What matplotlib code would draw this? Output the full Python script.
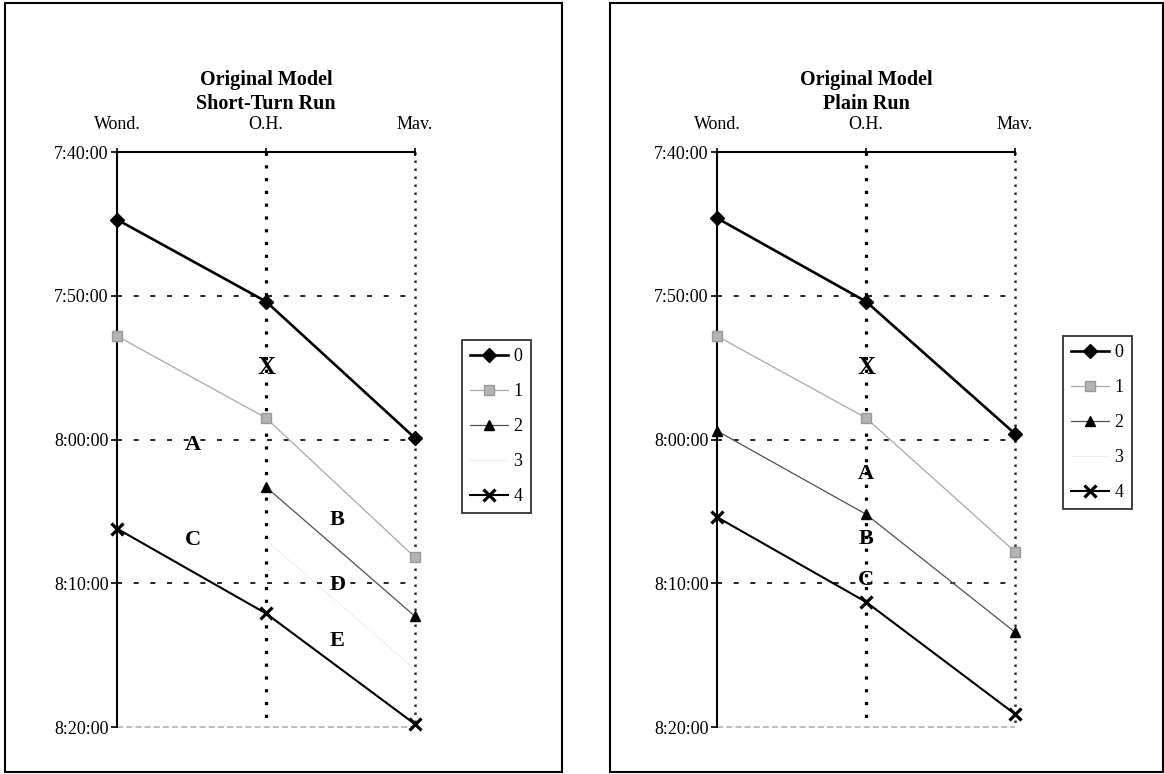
import matplotlib
matplotlib.use('Agg')
import matplotlib.pyplot as plt
import numpy as np
from matplotlib.patches import Rectangle

nan = np.nan

# ---------------- data ----------------
stations = ['Wond.', 'O.H.', 'Mav.']
time_ticks = ['7:40:00', '7:50:00', '8:00:00', '8:10:00', '8:20:00']
tick_minutes = [0, 10, 20, 30, 40]          # minutes after 7:40:00
series_names = ['0', '1', '2', '3', '4']

# Short-Turn Run (minutes after 7:40:00)
short_s0 = [4.7, 10.4, 19.9]
short_s1 = [12.8, 18.5, 28.2]
short_s2 = [nan, 23.3, 32.3]
short_s3 = [nan, 27.0, 36.0]
short_s4 = [26.2, 32.1, 39.8]

# Plain Run (minutes after 7:40:00)
plain_s0 = [4.6, 10.4, 19.6]
plain_s1 = [12.8, 18.5, 27.8]
plain_s2 = [19.4, 25.2, 33.4]
plain_s3 = [nan, nan, nan]
plain_s4 = [25.4, 31.3, 39.1]

# letter annotations (station index, minutes after 7:40)
short_labels = ['X', 'A', 'B', 'C', 'D', 'E']
short_lab_x = [1.0, 0.51, 1.48, 0.51, 1.48, 1.48]
short_lab_y = [15.0, 20.4, 25.6, 27.0, 30.1, 34.0]

plain_labels = ['X', 'A', 'B', 'C']
plain_lab_x = [1.0, 1.0, 1.0, 1.0]
plain_lab_y = [15.0, 22.4, 26.9, 29.8]

# ---------------- style ----------------
plt.rcParams['font.family'] = ['Liberation Serif', 'DejaVu Serif']
W, H = 1164, 774
fig = plt.figure(figsize=(W / 100, H / 100), dpi=100)

styles = [
    dict(color='black', lw=1.9, marker='D', ms=7.5, mfc='black', mec='black'),
    dict(color='#a8a8a8', lw=0.9, marker='s', ms=7.5, mfc='#b4b4b4', mec='#999999'),
    dict(color='#505050', lw=0.9, marker='^', ms=7.5, mfc='black', mec='black'),
    dict(color='#eeeeee', lw=0.8, marker=None),
    dict(color='black', lw=1.5, marker='x', ms=9, mew=2.3, mec='black'),
]


def panel(ax_px, frame_px, title2, series, labs, lab_x, lab_y, legend_px):
    x0, x1, ytop, ybot = ax_px
    ax = fig.add_axes([x0 / W, 1 - ybot / H, (x1 - x0) / W, (ybot - ytop) / H])
    ax.set_xlim(0, 2)
    ax.set_ylim(40, 0)
    # gridlines
    for m in tick_minutes[1:-1]:
        ax.plot([0, 2], [m, m], color='black', lw=1.2, ls=(0, (3, 7)), zorder=1)
    ax.plot([0, 2], [40, 40], color='#aaaaaa', lw=1.1, ls=(0, (4, 2)), zorder=1,
            clip_on=False)
    ax.plot([1, 1], [0, 40], color='black', lw=2.3, ls=(0, (1, 3)), zorder=1)
    ax.plot([2, 2], [0, 40], color='#333333', lw=1.8, ls=(0, (1, 2.2)), zorder=1,
            clip_on=False)

    xs = np.arange(len(stations))
    handles = []
    for name, vals, st in zip(series_names, series, styles):
        h, = ax.plot(xs, vals, label=name, clip_on=False, zorder=3, **st)
        handles.append(h)

    for t, lx, ly in zip(labs, lab_x, lab_y):
        ax.text(lx, ly, t, ha='center', va='center', fontsize=18 if t == 'X' else 16,
                fontweight='bold', zorder=4)

    for s in ['right', 'bottom']:
        ax.spines[s].set_visible(False)
    for s in ['left', 'top']:
        ax.spines[s].set_linewidth(1.5)
        ax.spines[s].set_color('black')

    ax.xaxis.tick_top()
    ax.set_xticks(xs)
    ax.set_xticklabels(stations, fontsize=13)
    ax.tick_params(axis='x', direction='inout', length=6, width=1.2, pad=11)
    ax.set_yticks(tick_minutes)
    ax.set_yticklabels(time_ticks, fontsize=13)
    ax.tick_params(axis='y', direction='out', length=4, width=1.2, pad=2)

    cx = (x0 + x1) / 2
    fig.text(cx / W, 1 - 80 / H, 'Original Model', ha='center', va='center',
             fontsize=14.5, fontweight='bold')
    fig.text(cx / W, 1 - 104 / H, title2, ha='center', va='center',
             fontsize=14.5, fontweight='bold')

    fx0, fy0, fx1, fy1 = frame_px
    fig.add_artist(Rectangle((fx0 / W, 1 - fy1 / H), (fx1 - fx0) / W, (fy1 - fy0) / H,
                             transform=fig.transFigure, fill=False, lw=1.5,
                             edgecolor='black'))

    lx, ly = legend_px
    leg = fig.legend(handles=handles, loc='upper left',
                     bbox_to_anchor=(lx / W, 1 - ly / H), bbox_transform=fig.transFigure,
                     borderaxespad=0, frameon=True, fancybox=False, fontsize=13,
                     handlelength=2.1, handletextpad=0.3, labelspacing=1.0,
                     borderpad=0.45, markerscale=1.0)
    leg.get_frame().set_edgecolor('black')
    leg.get_frame().set_linewidth(1.3)
    return ax


panel((117, 415, 152, 727), (5, 3, 562, 772), 'Short-Turn Run',
      [short_s0, short_s1, short_s2, short_s3, short_s4],
      short_labels, short_lab_x, short_lab_y, (462, 340))
panel((717, 1015, 152, 727), (610, 3, 1163, 772), 'Plain Run',
      [plain_s0, plain_s1, plain_s2, plain_s3, plain_s4],
      plain_labels, plain_lab_x, plain_lab_y, (1063, 336))

fig.savefig('out.png', dpi=100)
